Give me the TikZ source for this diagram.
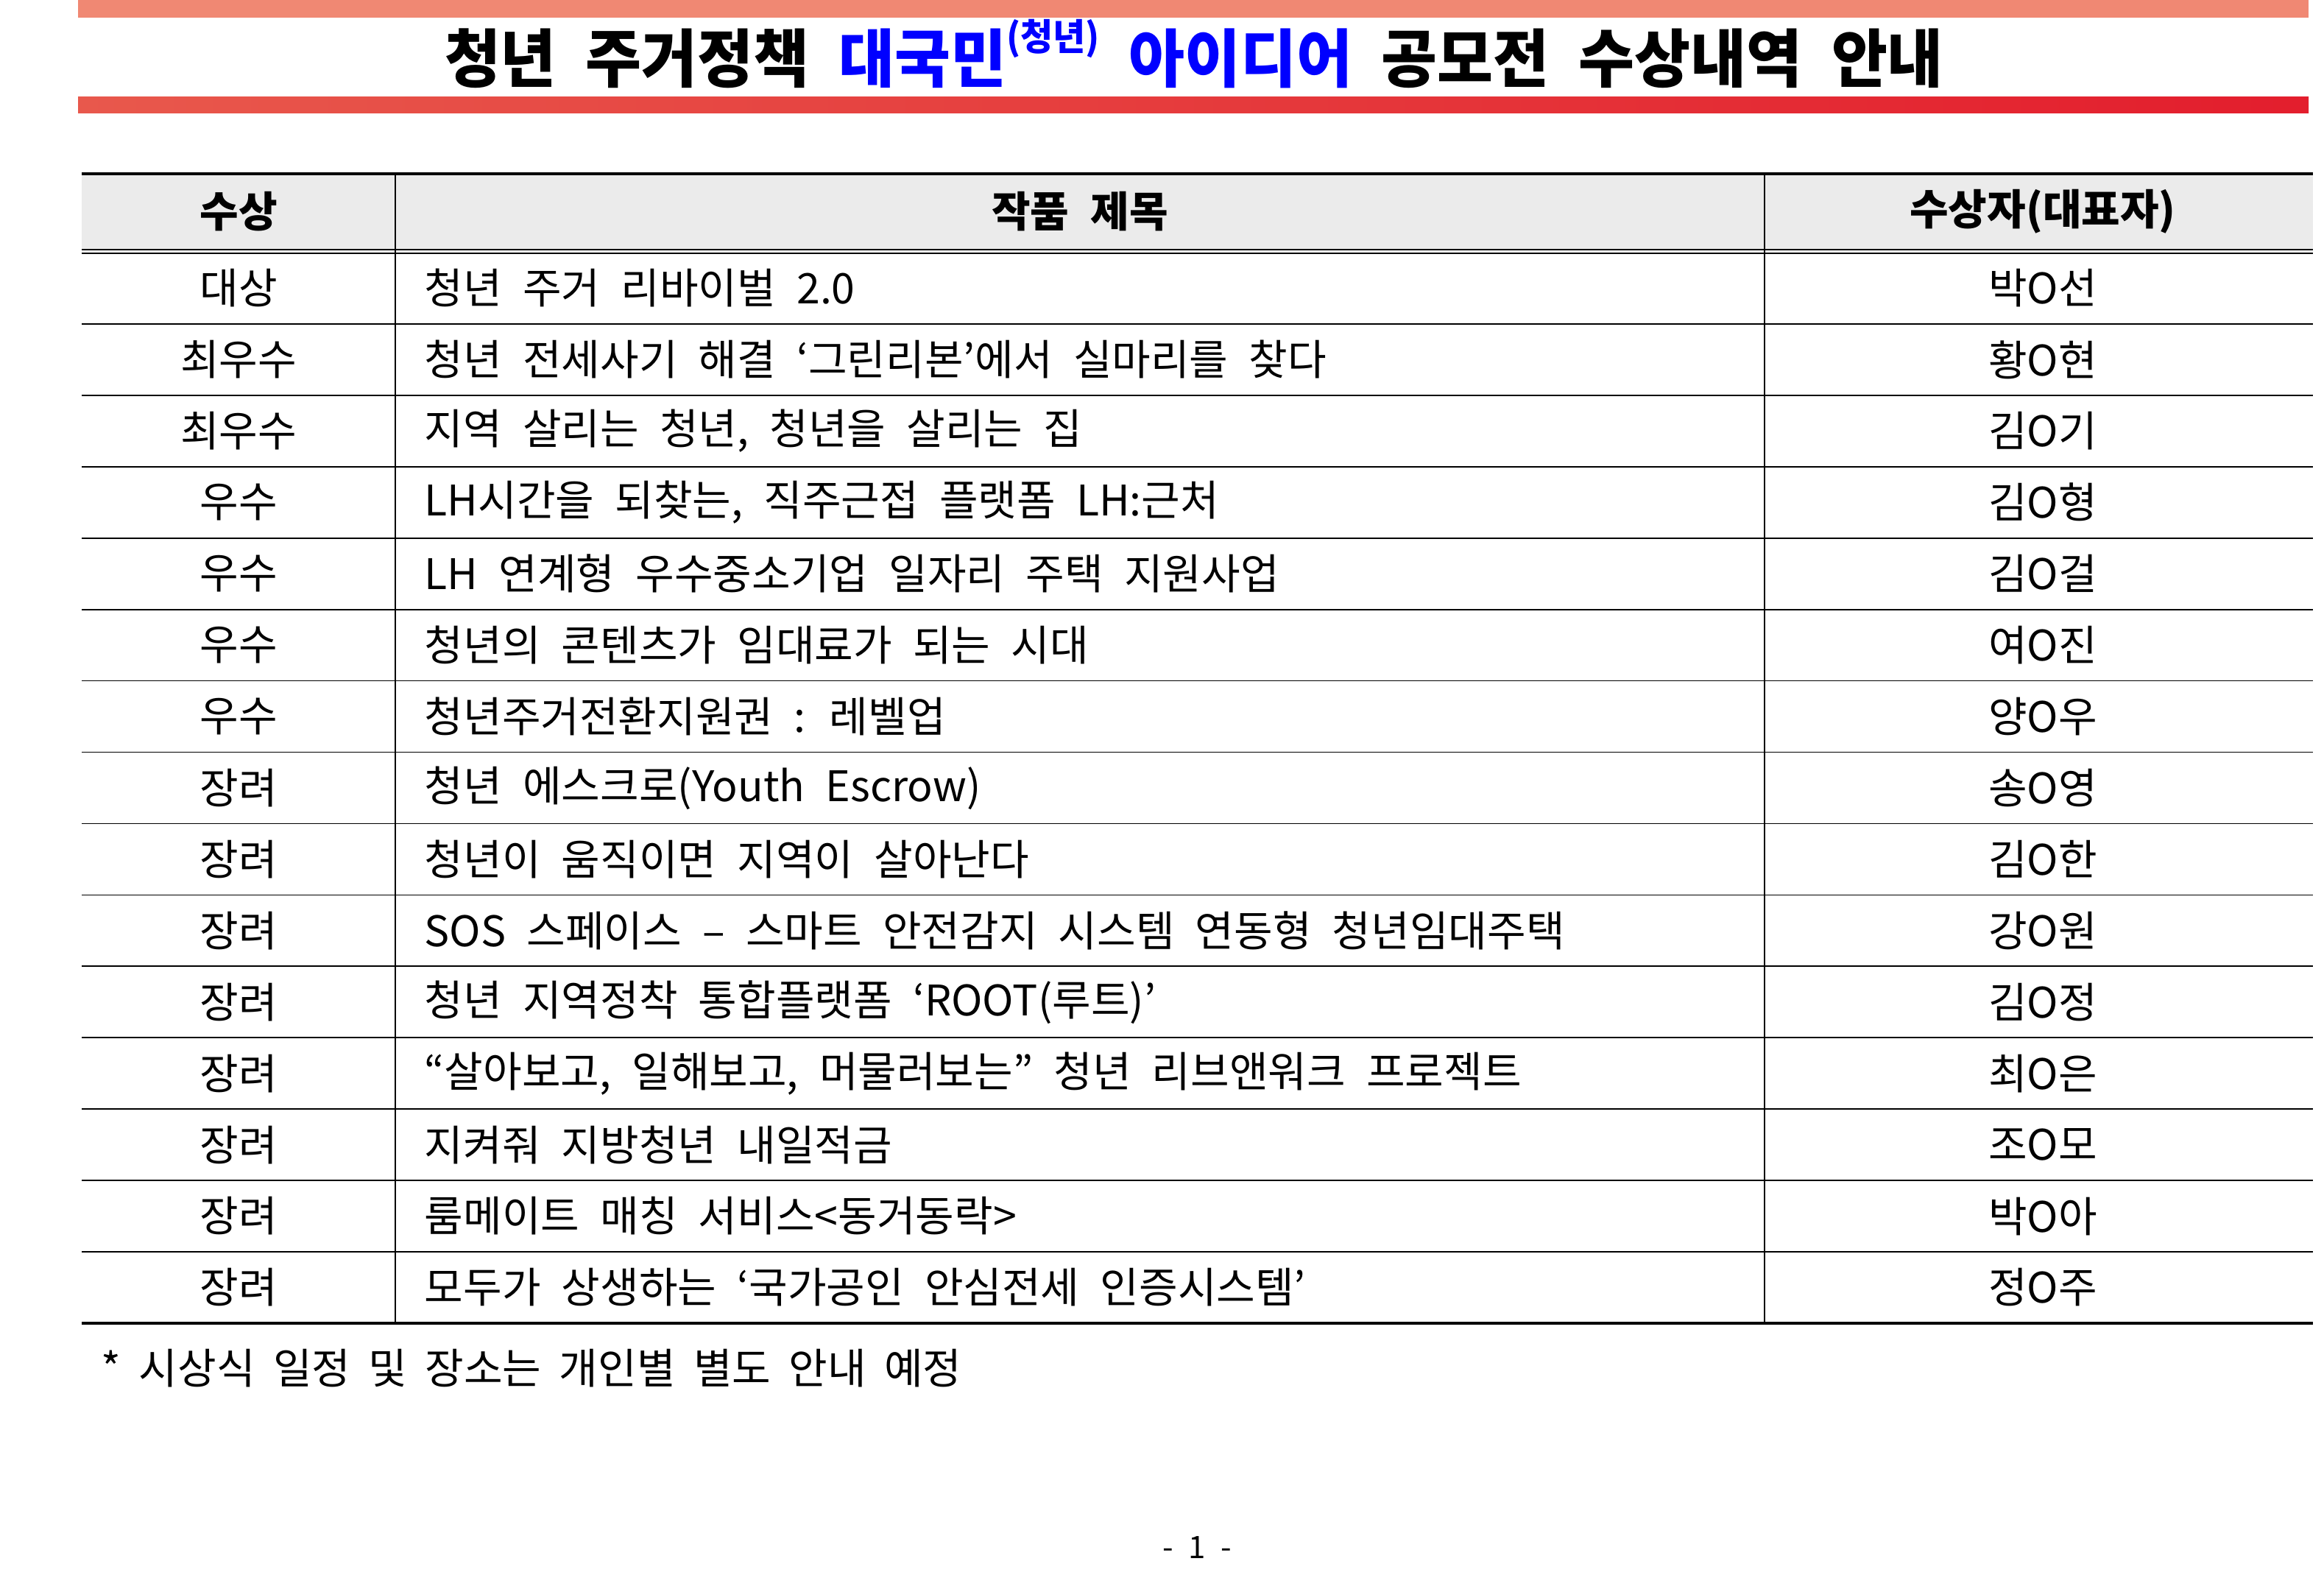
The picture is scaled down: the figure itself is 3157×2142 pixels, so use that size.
\documentclass[tikz,border=0pt]{standalone}
\usepackage{fontspec}
\setmainfont[WordSpace=2.2]{Noto Sans CJK KR}
\newfontfamily\titlefont[WordSpace=2.1,FakeStretch=0.96]{Noto Sans CJK KR}
\newfontfamily\notefont[WordSpace=1.9]{Noto Sans CJK KR}
\usetikzlibrary{positioning}
\definecolor{topbar}{RGB}{240,136,115}
\definecolor{barleft}{RGB}{232,88,76}
\definecolor{barright}{RGB}{227,30,45}
\definecolor{headgray}{RGB}{235,235,235}
\definecolor{titleblue}{RGB}{0,0,255}

\tikzset{
    cell/.style={inner sep=0pt, font=\fontsize{14.3}{17}\selectfont},
    headcell/.style={cell, font=\fontsize{14.3}{17}\selectfont\bfseries},
    workcell/.style={cell, anchor=west},
    thinrule/.style={line width=0.42pt},
    thickrule/.style={line width=0.8pt}
}

\begin{document}
\begin{tikzpicture}[x=0.25pt, y=-0.25pt]
    \useasboundingbox (0,0) rectangle (3157,2142);

    % Top bars
    \fill[topbar] (106,0) rectangle (3136,24);
    \shade[left color=barleft, right color=barright] (106,131) rectangle (3136,153);

    % Title
    \node[inner sep=0pt, anchor=base, font=\titlefont\fontsize{21.5}{26}\selectfont\bfseries] (Title) at (1622,111)
        {청년 주거정책 {\color{titleblue}대국민\raisebox{0.5em}{\fontsize{12.5}{14}\selectfont(청년)} 아이디어} 공모전 수상내역 안내};

    % Header row
    \fill[headgray] (111,236) rectangle (3142,339);
    \node[headcell] (HeadAward) at (324,287) {수상};
    \node[headcell] (HeadWork) at (1467,287) {작품 제목};
    \node[headcell] (HeadWinner) at (2775,287) {수상자(대표자)};

    % Table rules
    \draw[thickrule] (111,236) -- (3142,236);
    \draw[thinrule] (111,339) -- (3142,339);
    \draw[thinrule] (111,344) -- (3142,344);
    \foreach \i in {1,...,14}
        \draw[thinrule] (111,343+\i*96.93) -- (3142,343+\i*96.93);
    \draw[thickrule] (111,1797) -- (3142,1797);
    \draw[thinrule] (537,236) -- (537,1797);
    \draw[thinrule] (2397,236) -- (2397,1797);

    % Rows
    \foreach \i/\award/\work/\winner in {
        1/대상/{청년 주거 리바이벌 2.0}/박O선,
        2/최우수/{청년 전세사기 해결 ‘그린리본’에서 실마리를 찾다}/황O현,
        3/최우수/{지역 살리는 청년, 청년을 살리는 집}/김O기,
        4/우수/{LH시간을 되찾는, 직주근접 플랫폼 LH:근처}/김O형,
        5/우수/{LH 연계형 우수중소기업 일자리 주택 지원사업}/김O걸,
        6/우수/{청년의 콘텐츠가 임대료가 되는 시대}/여O진,
        7/우수/{청년주거전환지원권 : 레벨업}/양O우,
        8/장려/{청년 에스크로(Youth Escrow)}/송O영,
        9/장려/{청년이 움직이면 지역이 살아난다}/김O한,
        10/장려/{SOS 스페이스 – 스마트 안전감지 시스템 연동형 청년임대주택}/강O원,
        11/장려/{청년 지역정착 통합플랫폼 ‘ROOT(루트)’}/김O정,
        12/장려/{“살아보고, 일해보고, 머물러보는” 청년 리브앤워크 프로젝트}/최O은,
        13/장려/{지켜줘 지방청년 내일적금}/조O모,
        14/장려/{룸메이트 매칭 서비스<동거동락>}/박O아,
        15/장려/{모두가 상생하는 ‘국가공인 안심전세 인증시스템’}/정O주}
    {
        \pgfmathsetmacro\rowy{343+(\i-0.5)*96.93}
        \node[cell] (Award\i) at (324,\rowy) {\award};
        \node[workcell] (Work\i) at (576,\rowy) {\work};
        \node[cell] (Winner\i) at (2775,\rowy) {\winner};
    }

    % Note and page number
    \node[workcell, font=\notefont\fontsize{14.3}{17}\selectfont] (Note) at (137,1858) {* 시상식 일정 및 장소는 개인별 별도 안내 예정};
    \node[inner sep=0pt, font=\fontsize{10.5}{12}\selectfont] (PageNum) at (1626,2101) {- 1 -};
\end{tikzpicture}
\end{document}
